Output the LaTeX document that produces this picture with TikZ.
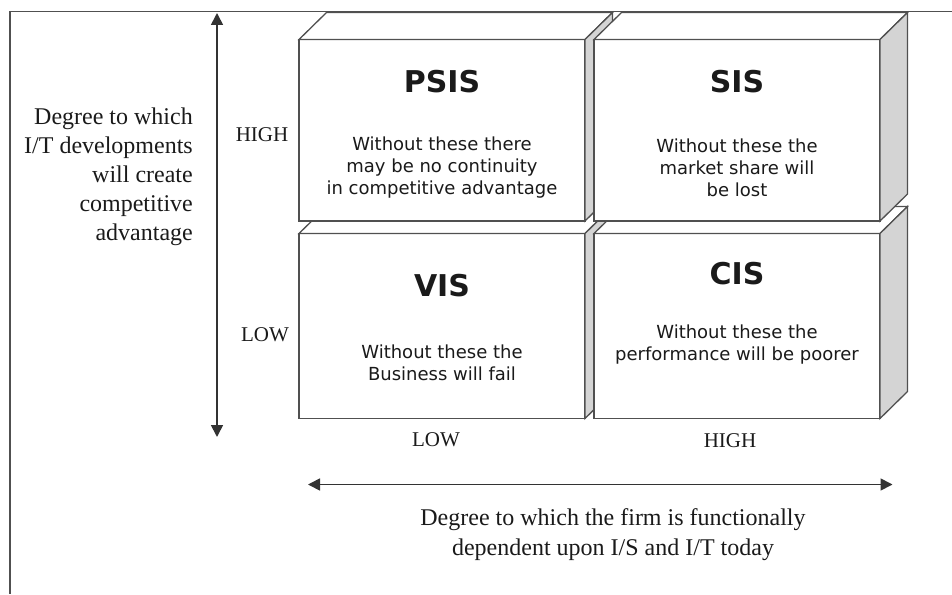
\documentclass[tikz,border=0pt]{standalone}
\usepackage{fontspec}
\setmainfont{Liberation Serif}
\newfontfamily\boxfont{DejaVu Sans}
\usetikzlibrary{arrows.meta}

\definecolor{edge}{HTML}{505050}
\definecolor{side}{HTML}{D4D4D4}
\definecolor{ink}{HTML}{1A1A1A}

\begin{document}
\begin{tikzpicture}[x=1pt, y=-1pt,
    front/.style={draw=edge, line width=1.3pt, fill=white, inner sep=0pt, outer sep=0pt,
        minimum width=286pt, anchor=north west},
    face/.style={draw=edge, line width=1.3pt, line join=miter, fill=white},
    sideface/.style={face, fill=side},
    title/.style={font=\boxfont\bfseries\fontsize{30}{30}\selectfont, text=ink, inner sep=0pt},
    body/.style={font=\boxfont\fontsize{18}{22}\selectfont, text=ink, align=center, inner sep=0pt},
    axis/.style={font=\fontsize{21}{25}\selectfont, text=ink, inner sep=0pt},
    caption/.style={font=\fontsize{24}{29}\selectfont, text=ink, inner sep=0pt},
    arrow/.style={draw=black!80, line width=1.7pt,
        {Triangle[length=12pt,width=12pt]}-{Triangle[length=12pt,width=12pt]}}]
    \useasboundingbox (0,0) rectangle (952,594);

    % Frame
    \coordinate (frame-ne) at (952,11.5);
    \coordinate (frame-nw) at (10,11.5);
    \coordinate (frame-sw) at (10,594);
    \draw[edge, line width=1.6pt] (frame-ne) -- (frame-nw) -- (frame-sw);

    % The four boxes, back ones first
    \foreach \name/\x/\y/\h in {vis/299/233.5/185, cis/594/233.5/185, psis/299/39.5/181.5, sis/594/39.5/181.5}{
        \node[front, minimum height=\h pt] (\name) at (\x,\y) {};
        \draw[face] (\name.north west) -- ++(27.5,-27) -- ++(286,0) -- (\name.north east) -- cycle;
        \draw[sideface] (\name.north east) -- ++(27.5,-27) -- ++(0,\h) -- (\name.south east) -- cycle;
    }

    % Box texts
    \node[title] (psis-t) at (442,82) {PSIS};
    \node[body] (psis-b) at (442,168) {Without these there\\may be no continuity\\in competitive advantage};
    \node[title] (sis-t) at (737,82) {SIS};
    \node[body] (sis-b) at (737,168) {Without these the\\market share will\\be lost};
    \node[title] (vis-t) at (442,286) {VIS};
    \node[body] (vis-b) at (442,363) {Without these the\\Business will fail};
    \node[title] (cis-t) at (737,274) {CIS};
    \node[body] (cis-b) at (737,345) {Without these the\\performance will be poorer};

    % Vertical axis
    \coordinate (v-top) at (217,13);
    \coordinate (v-bot) at (217,437);
    \draw[arrow] (v-top) -- (v-bot);
    \node[axis] (v-high) at (262,135) {HIGH};
    \node[axis] (v-low) at (265,335) {LOW};
    \node[caption, align=right, anchor=east] (v-cap) at (193,177)
        {Degree to which\\I/T developments\\will create\\competitive\\advantage};

    % Horizontal axis
    \node[axis] (h-low) at (436,440) {LOW};
    \node[axis] (h-high) at (730,441) {HIGH};
    \coordinate (h-left) at (308,484.5);
    \coordinate (h-right) at (892.5,484.5);
    \draw[arrow] (h-left) -- (h-right);
    \node[caption, align=center, font=\fontsize{24}{30}\selectfont] (h-cap) at (613,535)
        {Degree to which the firm is functionally\\dependent upon I/S and I/T today};
\end{tikzpicture}
\end{document}
